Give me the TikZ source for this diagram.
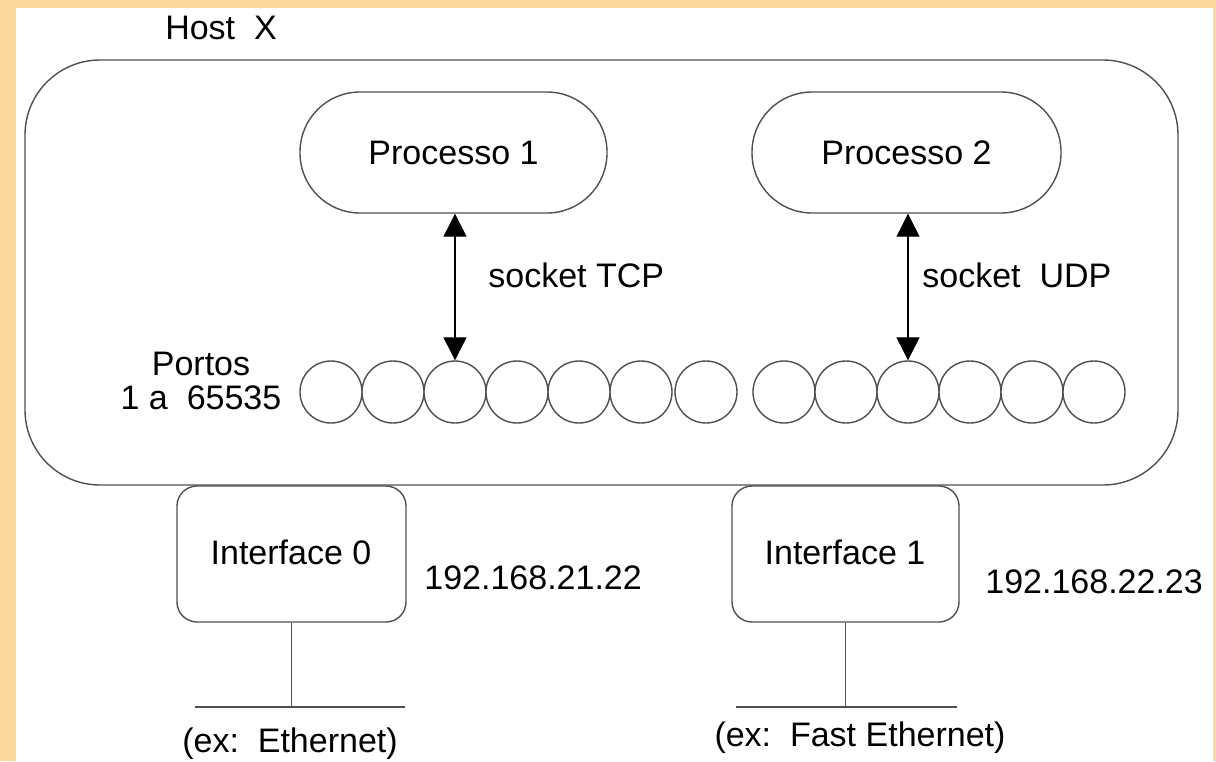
\documentclass[tikz,border=0pt]{standalone}
\usepackage{fontspec}
\setmainfont{Liberation Sans}
\usetikzlibrary{arrows.meta}

\definecolor{slideback}{RGB}{250,216,156}
\definecolor{linegray}{RGB}{80,80,80}

\def\dP{62}    % port spacing
\def\yP{392}   % port row
\def\yN{707}   % network line

\begin{document}
\begin{tikzpicture}[x=0.5pt,y=-0.5pt,
    txt/.style={font=\fontsize{17}{20}\selectfont, inner sep=0pt},
    box/.style={draw=linegray, line width=0.7pt, fill=white, inner sep=0pt},
    port/.style={box, shape=circle, minimum size=31pt},
    arr/.style={line width=0.6pt, {Triangle[length=11.5pt,width=11.5pt]}-{Triangle[length=11.5pt,width=11.5pt]}}]

    \useasboundingbox (0,0) rectangle (1216,761);
    \fill[slideback] (0,0) rectangle (1216,761);
    \fill[white] (16,8) rectangle (1213,761);

    %%   host and processes
    \node[box, rounded corners=37.5pt, minimum width=576.5pt, minimum height=212.5pt] (H) at (601.5,272.5) {};
    \node[txt] (HX) at (221,28) {Host\ \ X};

    \node[box, rounded corners=30pt, minimum width=153.5pt, minimum height=60.5pt, txt] (P1) at (453.5,152.5) {Processo 1};
    \node[box, rounded corners=30pt, minimum width=154.5pt, minimum height=60.5pt, txt] (P2) at (906.5,152.5) {Processo 2};

    %%   ports
    \foreach \i in {1,...,6}
      \node[port] (pA\i) at (331+\i*\dP-\dP, \yP) {};
    \node[port] (pA7) at (706, \yP) {};
    \foreach \i in {1,...,6}
      \node[port] (pB\i) at (784+\i*\dP-\dP, \yP) {};

    \node[txt] (PT) at (201,364) {Portos};
    \node[txt] (PR) at (201,398) {1 a\ \ 65535};

    %%   sockets
    \draw[arr] (pA3 |- P1.south) -- (pA3.north);
    \draw[arr] (pB3 |- P2.south) -- (pB3.north);
    \node[txt, anchor=west] (ST) at (488,275) {socket TCP};
    \node[txt, anchor=west] (SU) at (922,275) {socket\ \ UDP};

    %%   interfaces
    \node[box, rounded corners=10pt, minimum width=114.5pt, minimum height=68pt, txt] (I0) at (291.5,554) {};
    \node[box, rounded corners=10pt, minimum width=113.5pt, minimum height=68pt, txt] (I1) at (845.5,554) {};
    \node[txt] (I0t) at (291,552) {Interface 0};
    \node[txt] (I1t) at (845,552) {Interface 1};
    \node[txt, anchor=west] (IP0) at (424,578) {192.168.21.22};
    \node[txt, anchor=west] (IP1) at (985,582) {192.168.22.23};

    %%   networks
    \coordinate (N0) at (291.5,\yN);
    \coordinate (N0a) at (195,\yN);
    \coordinate (N0b) at (405,\yN);
    \coordinate (N1) at (845.5,\yN);
    \coordinate (N1a) at (736,\yN);
    \coordinate (N1b) at (957,\yN);

    \draw[linegray, line width=0.7pt] (I0.south) -- (N0);
    \draw[linegray, line width=0.7pt] (N0a) -- (N0b);
    \draw[linegray, line width=0.7pt] (I1.south) -- (N1);
    \draw[linegray, line width=0.7pt] (N1a) -- (N1b);

    \node[txt] (E0) at (290,744) {(ex:\ \ Ethernet)};
    \node[txt] (E1) at (860,738) {(ex:\ \ Fast Ethernet)};

  \end{tikzpicture}
\end{document}
